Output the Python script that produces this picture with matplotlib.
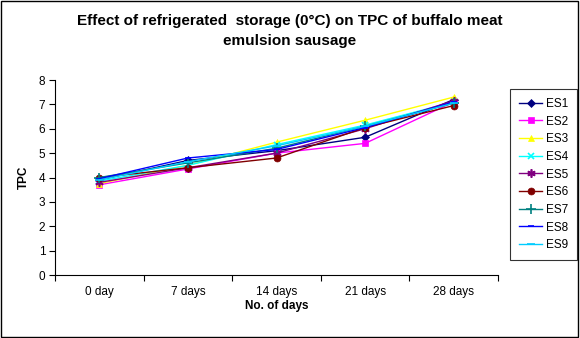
import numpy as np
import matplotlib
matplotlib.use('Agg')
import matplotlib.pyplot as plt
from matplotlib.patches import Rectangle

plt.rcParams['font.family'] = ['Liberation Sans', 'DejaVu Sans']

days = ['0 day', '7 days', '14 days', '21 days', '28 days']

es1 = [3.90, 4.70, 5.10, 5.65, 7.20]
es2 = [3.70, 4.35, 5.00, 5.40, 7.10]
es3 = [3.75, 4.50, 5.45, 6.35, 7.30]
es4 = [3.85, 4.50, 5.35, 6.15, 7.10]
es5 = [3.80, 4.40, 5.00, 6.00, 7.15]
es6 = [4.00, 4.40, 4.80, 6.05, 6.95]
es7 = [4.00, 4.60, 5.20, 6.10, 7.05]
es8 = [3.95, 4.80, 5.15, 6.05, 7.10]
es9 = [3.90, 4.65, 5.30, 6.10, 7.05]

series = [
    ('ES1', es1, '#000080', 'D', 4),
    ('ES2', es2, '#FF00FF', 's', 5),
    ('ES3', es3, '#FFFF00', '^', 5),
    ('ES4', es4, '#00FFFF', 'x', 5),
    ('ES5', es5, '#800080', (6, 2, 0), 6),
    ('ES6', es6, '#800000', 'o', 5),
    ('ES7', es7, '#008080', '+', 7),
    ('ES8', es8, '#0000FF', '_', 4),
    ('ES9', es9, '#00CCFF', '_', 6),
]

fig = plt.figure(figsize=(5.8, 3.38), dpi=100)
# outer chart border
fig.patches.append(Rectangle((0.002, 0.003), 0.995, 0.994, transform=fig.transFigure,
                             fill=False, edgecolor='black', linewidth=1))

ax = fig.add_axes([55 / 580, 1 - 275 / 338, 443 / 580, 195 / 338])
x = np.arange(len(days))
for name, vals, col, mk, ms in series:
    ax.plot(x, vals, color=col, marker=mk, markersize=ms, linewidth=1,
            markeredgewidth=1.2 if mk in ('x', '+', '_', (6, 2, 0)) else 0.5,
            markeredgecolor=col, markerfacecolor=col, label=name)

ax.set_xlim(-0.5, len(days) - 0.5)
ax.set_ylim(0, 8)
ax.set_yticks(range(0, 9))
ax.set_xticks(x)
ax.set_xticklabels(days)
ax.set_xticks(np.arange(-0.5, len(days), 1), minor=True)
ax.tick_params(axis='x', which='major', length=0, pad=8, labelsize=8.5)
ax.tick_params(axis='x', which='minor', length=4, direction='out', width=0.8)
ax.tick_params(axis='y', length=4, width=0.8, labelsize=8.5, pad=3)
for s in ['top', 'right']:
    ax.spines[s].set_visible(False)
for s in ['left', 'bottom']:
    ax.spines[s].set_linewidth(0.8)

ax.set_xlabel('No. of days', fontsize=8.5, fontweight='bold', labelpad=1)
ax.set_ylabel('TPC', fontsize=8.5, fontweight='bold', labelpad=6)

fig.text(0.5, 1 - 21 / 338, 'Effect of refrigerated  storage (0°C) on TPC of buffalo meat',
         ha='center', va='center', fontsize=11, fontweight='bold')
fig.text(0.5, 1 - 41 / 338, 'emulsion sausage',
         ha='center', va='center', fontsize=11, fontweight='bold')

leg = fig.legend(loc='upper left', bbox_to_anchor=(510 / 580, 1 - 89 / 338),
                 frameon=True, fancybox=False, edgecolor='black', fontsize=8.5,
                 handlelength=2.0, borderpad=0.75, labelspacing=0.48,
                 handletextpad=0.3, borderaxespad=0)
leg.get_frame().set_linewidth(0.8)

fig.savefig('out.png', dpi=100)
